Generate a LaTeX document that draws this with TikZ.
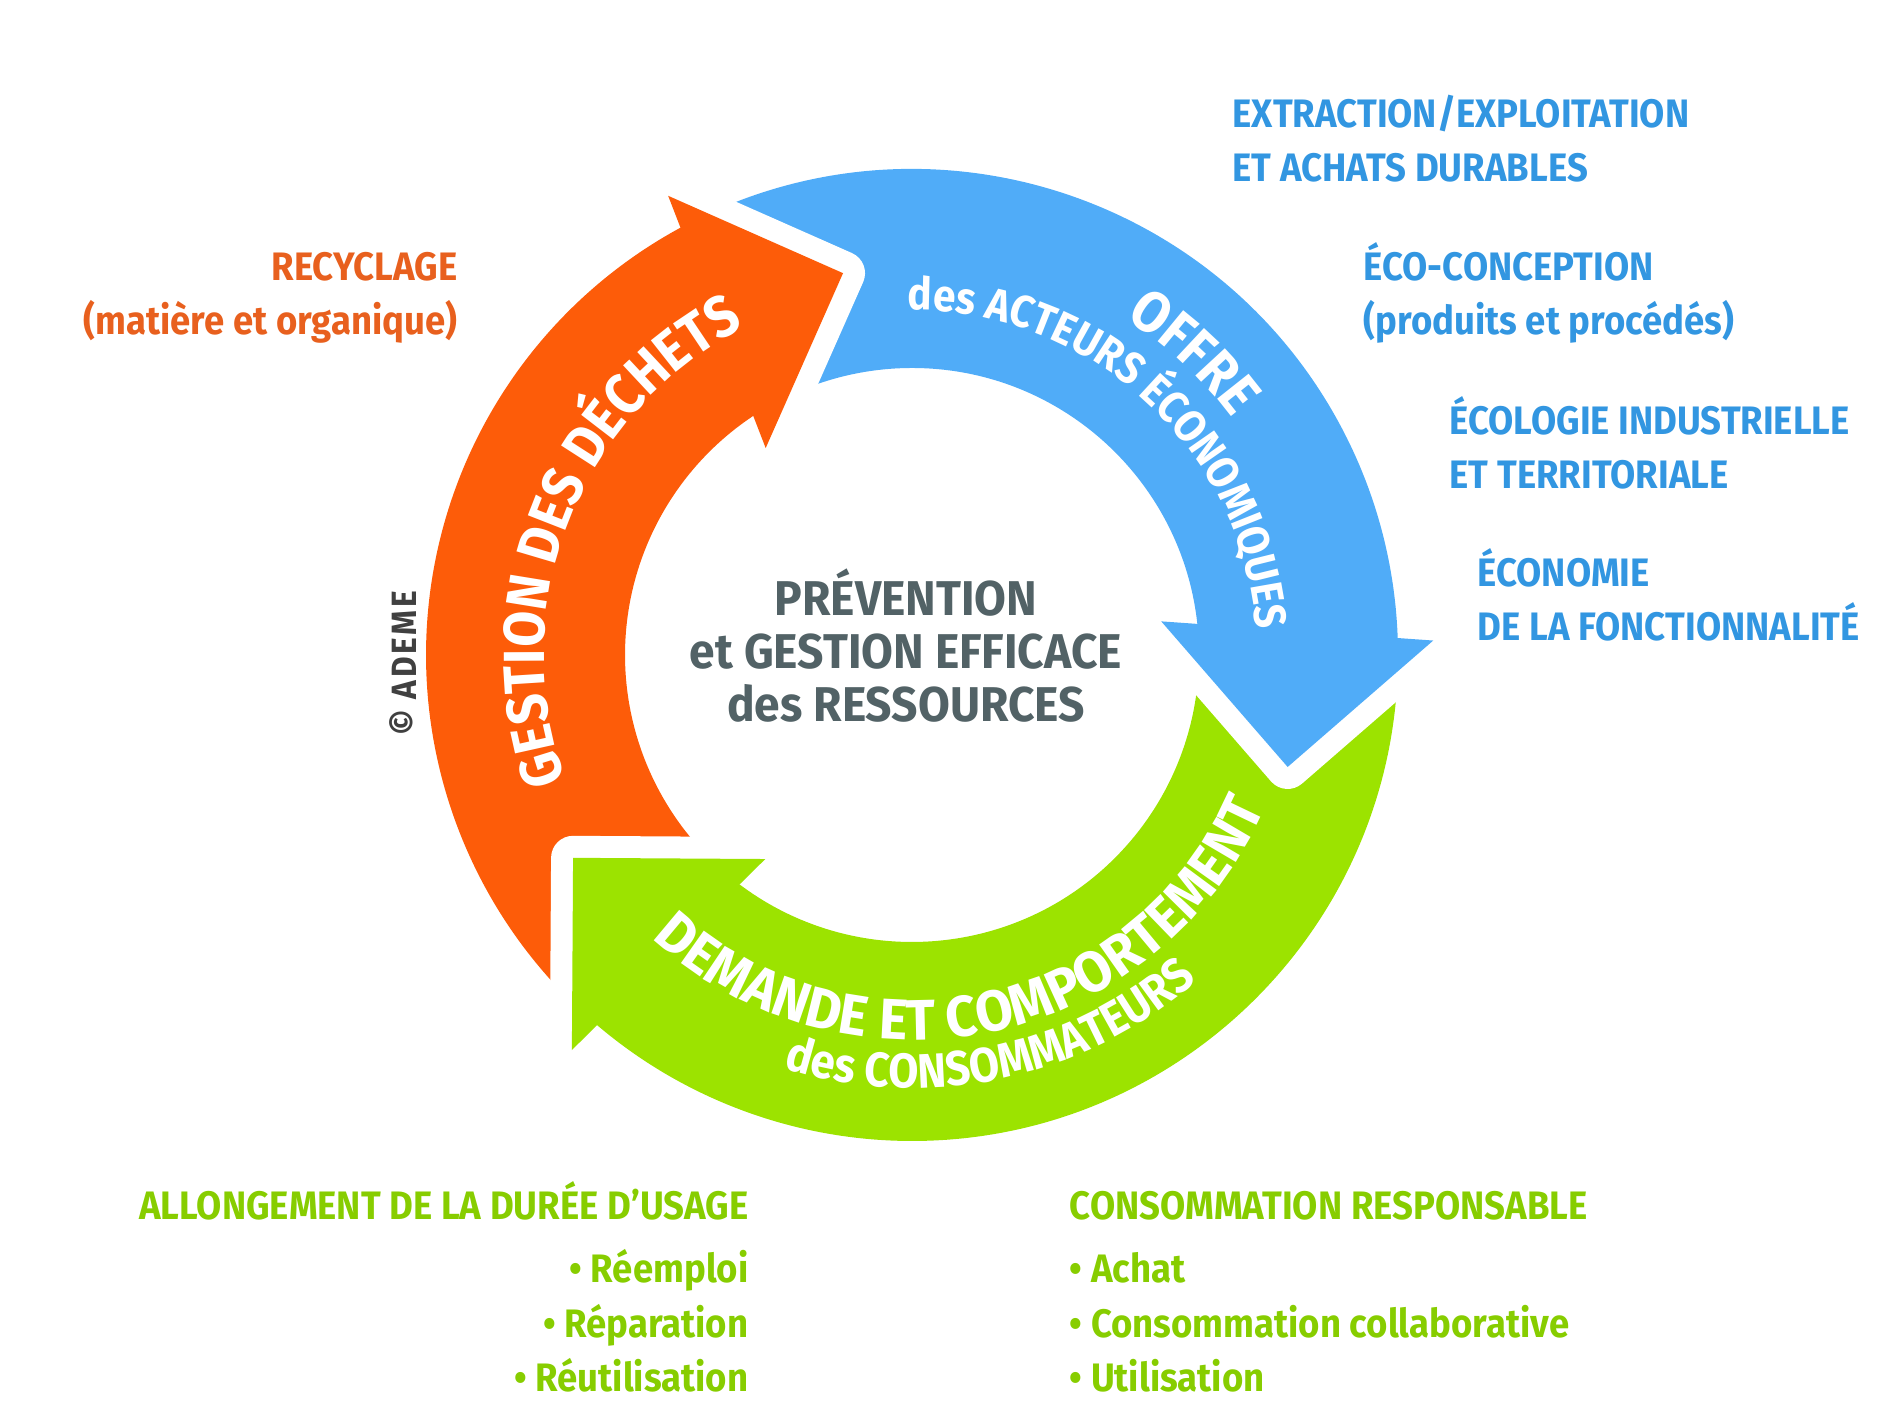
\documentclass[tikz,border=0pt]{standalone}
\usepackage{fontspec}
\setmainfont{Fira Sans}[FakeStretch=0.9]
\newfontfamily\sidefont{Fira Sans}[FakeStretch=0.92]
\newfontfamily\centrefont{Fira Sans}[FakeStretch=0.945]
\newfontfamily\widearcfont{Fira Sans}[FakeStretch=0.95]
\usetikzlibrary{calc,decorations.text}
\definecolor{dechets}{RGB}{253,92,9}
\definecolor{offre}{RGB}{80,172,248}
\definecolor{demande}{RGB}{156,227,0}
\definecolor{dechetstxt}{RGB}{232,96,30}
\definecolor{offretxt}{RGB}{50,150,225}
\definecolor{demandetxt}{RGB}{135,205,0}
\definecolor{centretxt}{RGB}{82,98,102}
\tikzset{gapline/.style={draw=white, line width=0.44cm, line join=round},
  sidelabel/.style={font=\sidefont\bfseries\fontsize{11.3}{15.6}\selectfont, text=#1, inner sep=0pt}}
\newcommand{\ringout}{4.86}
\newcommand{\ringin}{2.87}
\newcommand{\ringmid}{3.86}
\newcommand{\bigarc}{\color{white}\bfseries\fontsize{16.5}{18}\selectfont}
\newcommand{\widearc}{\color{white}\widearcfont\bfseries\fontsize{16.3}{18}\selectfont}
\newcommand{\smallarc}{\color{white}\bfseries\fontsize{12.8}{14}\selectfont}
\newcommand{\midarc}{\color{white}\bfseries\fontsize{13.8}{15}\selectfont}
\newcommand{\ringbody}[3]{\fill[#1] (#2:\ringout) arc[start angle=#2, end angle=#3, radius=\ringout]
  -- (#3:\ringin) arc[start angle=#3, end angle=#2, radius=\ringin] -- cycle;}
\newcommand{\ringhead}[5]{%
  \coordinate (#1base) at (#3:\ringmid);
  \coordinate (#1tip) at (#4:#5);
  \coordinate (#1l) at ($(#1base)!1!90:(#1tip)$);
  \coordinate (#1r) at ($(#1base)!1!-90:(#1tip)$);
  \draw[gapline] (#1l) -- (#1tip) -- (#1r);
  \fill[#2] (#1l) -- (#1tip) -- (#1r) -- cycle;}
\newcommand{\ringtext}[4]{\path[decorate, decoration={text along path, text align=center, text={#4}}]
  (#2:#1) arc[start angle=#2, end angle=#3, radius=#1];}

\begin{document}
\begin{tikzpicture}
\useasboundingbox (0,0) rectangle (18.85,14.18);

\begin{scope}[shift={(9.12,7.63)}]
\ringbody{dechets}{227.4}{117.9}
\ringbody{offre}{116.9}{1.1}
\ringbody{demande}{0.1}{-131.6}
\ringhead{g}{dechets}{120.36}{100.24}{3.88}
\ringhead{o}{offre}{3.57}{-16.6}{3.92}
\ringhead{d}{demande}{230.9}{210.9}{3.95}

\ringtext{3.68}{230}{87}{|\bigarc|GESTION DES DÉCHETS}
\ringtext{3.98}{80}{14}{|\bigarc|OFFRE}
\ringtext{3.45}{100}{-5}{|\smallarc|des ACTEURS ÉCONOMIQUES}
\ringtext{3.85}{215}{349}{|\widearc|DEMANDE ET COMPORTEMENT}
\ringtext{4.33}{238}{326}{|\midarc|des CONSOMMATEURS}
\end{scope}

\node[font=\centrefont\bfseries\fontsize{13.9}{15.2}\selectfont, text=centretxt, align=center, anchor=base, inner sep=0pt]
  (centre) at (9.06,6.96) {PRÉVENTION\\et GESTION EFFICACE\\des RESSOURCES};
\node[rotate=90, text=black!75, font=\bfseries\addfontfeature{LetterSpace=8}\fontsize{10}{12}\selectfont, inner sep=0pt]
  (ademe) at (4.03,7.55) {© ADEME};

\node[sidelabel=dechetstxt, align=right, anchor=base east] (recyclage) at (4.58,10.83)
  {RECYCLAGE\\(matière et organique)};
\node[sidelabel=offretxt, align=left, anchor=base west] (extraction) at (12.32,12.36)
  {EXTRACTION/EXPLOITATION\\ET ACHATS DURABLES};
\node[sidelabel=offretxt, align=left, anchor=base west] (ecoconception) at (13.63,10.83)
  {ÉCO-CONCEPTION\\(produits et procédés)};
\node[sidelabel=offretxt, align=left, anchor=base west] (ecologie) at (14.49,9.29)
  {ÉCOLOGIE INDUSTRIELLE\\ET TERRITORIALE};
\node[sidelabel=offretxt, align=left, anchor=base west] (economie) at (14.77,7.77)
  {ÉCONOMIE\\DE LA FONCTIONNALITÉ};
\node[sidelabel=demandetxt, align=right, anchor=base east] (allongement) at (7.49,0.26)
  {ALLONGEMENT DE LA DURÉE D’USAGE\\[0.08cm] • Réemploi\\ • Réparation\\ • Réutilisation};
\node[sidelabel=demandetxt, align=left, anchor=base west] (consommation) at (10.69,0.26)
  {CONSOMMATION RESPONSABLE\\[0.08cm] • Achat\\ • Consommation collaborative\\ • Utilisation};
\end{tikzpicture}
\end{document}
